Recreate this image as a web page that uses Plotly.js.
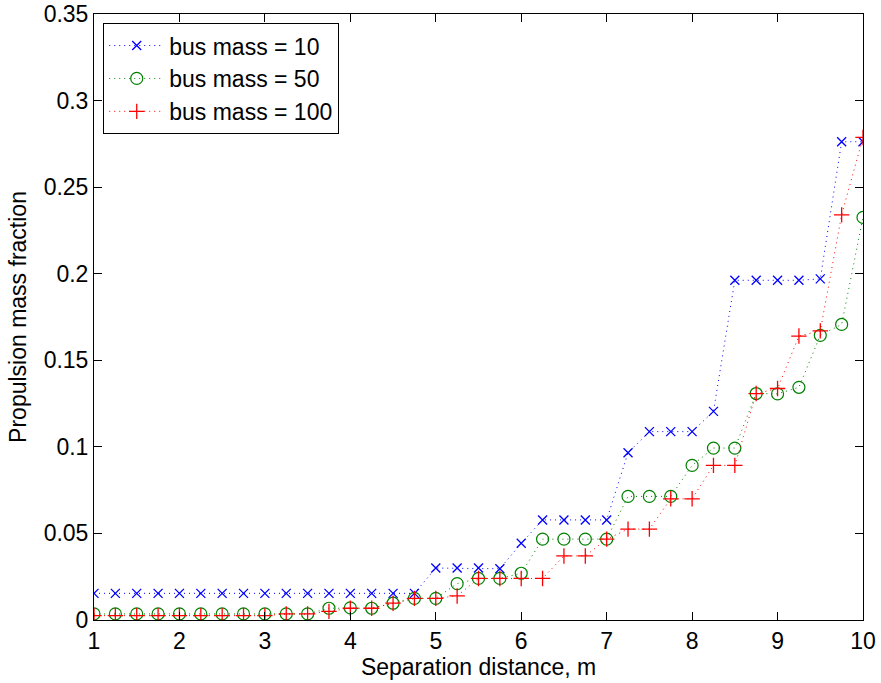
<!DOCTYPE html>
<html>
<head>
<meta charset="utf-8">
<script src="https://cdn.plot.ly/plotly-3.0.1.min.js"></script>
<style>html,body{margin:0;padding:0;background:#fff;}#chart{width:881px;height:683px;}</style>
</head>
<body>
<div id="chart"></div>
<script>
var separation = [1,1.25,1.5,1.75,2,2.25,2.5,2.75,3,3.25,3.5,3.75,4,4.25,4.5,4.75,5,5.25,5.5,5.75,6,6.25,6.5,6.75,7,7.25,7.5,7.75,8,8.25,8.5,8.75,9,9.25,9.5,9.75,10];
var bus10 = [0.0154,0.0154,0.0154,0.0154,0.0154,0.0154,0.0154,0.0154,0.0154,0.0154,0.0154,0.0154,0.0154,0.0154,0.0154,0.0154,
  0.030,0.030,0.030,0.0296,0.0443,0.0578,0.0578,0.0578,0.0578,0.0966,0.1088,0.1088,0.1088,0.1205,0.1962,0.1962,0.1962,0.1962,0.1970,0.2762,0.2762];
var bus50 = [0.0035,0.0035,0.0035,0.0035,0.0035,0.0035,0.0035,0.0035,0.0035,0.0035,0.0035,0.0068,0.0070,0.0068,0.0097,0.0125,
  0.0125,0.021,0.024,0.024,0.027,0.0467,0.0467,0.0467,0.0467,0.0714,0.0714,0.0714,0.0893,0.0993,0.0993,0.1308,0.1306,0.1344,0.1644,0.1707,0.2325];
var bus100 = [0.0025,0.0025,0.0025,0.0025,0.0025,0.0025,0.0025,0.0025,0.0025,0.0035,0.0035,0.005,0.0068,0.0068,0.0097,0.0125,
  0.0125,0.0139,0.024,0.024,0.024,0.024,0.037,0.037,0.0467,0.0525,0.0525,0.070,0.070,0.0893,0.0893,0.1308,0.1337,0.164,0.167,0.234,0.2787];
var seriesNames = ['bus mass = 10','bus mass = 50','bus mass = 100'];
var xTicks = [1,2,3,4,5,6,7,8,9,10];
var yTicks = [0,0.05,0.1,0.15,0.2,0.25,0.3,0.35];
var yTickLabels = ['0','0.05','0.1','0.15','0.2','0.25','0.3','0.35'];

var font = 'Liberation Sans, Arial, Helvetica, sans-serif';
var dotted = '1px,4px';
var traces = [
  {x: separation, y: bus10, name: seriesNames[0], mode: 'lines+markers',
   line: {color: '#0000ff', width: 1, dash: dotted},
   marker: {symbol: 'x-thin-open', size: 9, color: '#0000ff', line: {color: '#0000ff', width: 1.3}}},
  {x: separation, y: bus50, name: seriesNames[1], mode: 'lines+markers',
   line: {color: '#008000', width: 1, dash: dotted},
   marker: {symbol: 'circle-open', size: 12, color: '#008000', line: {color: '#008000', width: 1.2}}},
  {x: separation, y: bus100, name: seriesNames[2], mode: 'lines+markers',
   line: {color: '#ff0000', width: 1, dash: dotted},
   marker: {symbol: 'cross-thin-open', size: 11, color: '#ff0000', line: {color: '#ff0000', width: 1.3}}}
];

var axisCommon = {
  showgrid: false, zeroline: false, showline: true, linecolor: '#000', linewidth: 1,
  mirror: 'ticks', ticks: 'inside', ticklen: 8, tickcolor: '#000', tickwidth: 1,
  tickfont: {family: font, size: 23, color: '#000'}
};

var layout = {
  width: 881, height: 683,
  margin: {l: 94, r: 18, t: 14, b: 63, pad: 0},
  paper_bgcolor: '#fff', plot_bgcolor: '#fff',
  font: {family: font, color: '#000'},
  xaxis: Object.assign({}, axisCommon, {
    range: [1, 10], tickmode: 'array', tickvals: xTicks, ticktext: xTicks.map(String),
    title: {text: 'Separation distance, m', font: {family: font, size: 23, color: '#000'}, standoff: 0}
  }),
  yaxis: Object.assign({}, axisCommon, {
    range: [0, 0.35], tickmode: 'array', tickvals: yTicks, ticktext: yTickLabels,
    title: {text: 'Propulsion mass fraction', font: {family: font, size: 23, color: '#000'}, standoff: 10}
  }),
  showlegend: true,
  legend: {
    x: 0.012, y: 0.985, xanchor: 'left', yanchor: 'top',
    bgcolor: '#fff', bordercolor: '#000', borderwidth: 1,
    font: {family: font, size: 23, color: '#000'},
    itemwidth: 55, tracegroupgap: 0
  }
};

Plotly.newPlot('chart', traces, layout, {displayModeBar: false, staticPlot: true});
</script>
</body>
</html>
